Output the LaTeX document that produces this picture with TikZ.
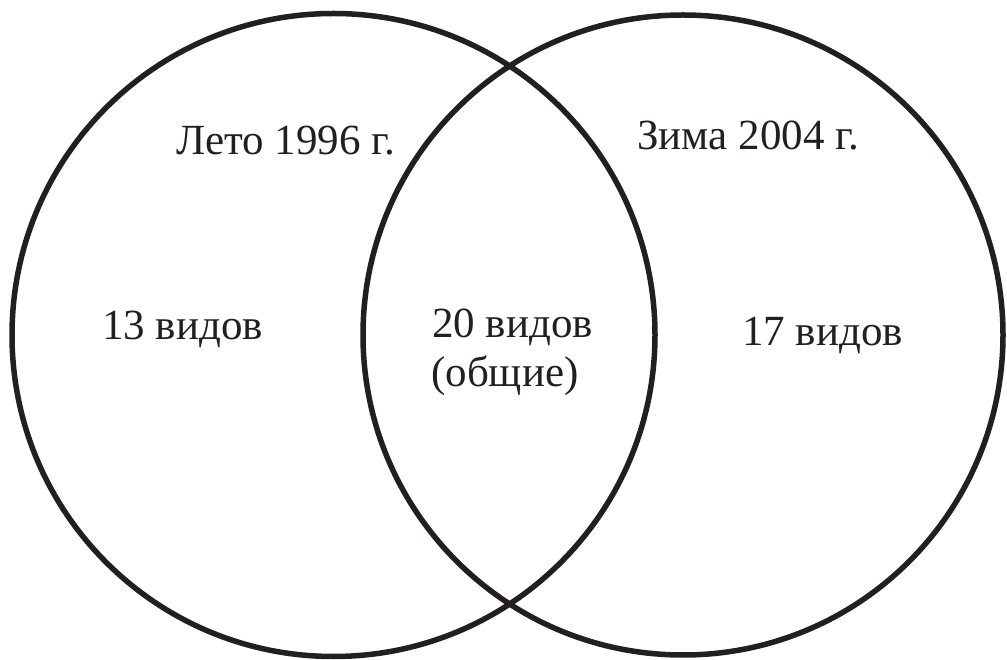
\documentclass[tikz,border=0pt]{standalone}
\usepackage{fontspec}
\setmainfont{Liberation Serif}
\definecolor{ink}{HTML}{231F20}
\begin{document}
\begin{tikzpicture}[x=1pt,y=1pt,
  ring/.style={draw=ink,line width=5.5pt},
  lbl/.style={anchor=base west,inner sep=0pt,text=ink,font=\fontsize{43}{48}\selectfont}]
\useasboundingbox (0,0) rectangle (1007,659);
\node[ring,circle,minimum size=643pt,inner sep=0pt] (left) at (333.5,324) {};
\node[ring,circle,minimum size=640pt,inner sep=0pt] (right) at (683,324) {};
\node[lbl] (summer) at (176,504) {Лето 1996 г.};
\node[lbl] (winter) at (637,509) {Зима 2004 г.};
\node[lbl] (l13) at (102,319) {13 видов};
\node[lbl] (m20) at (432,321) {20 видов};
\node[lbl] (common) at (431,272) {(общие)};
\node[lbl] (r17) at (742,313) {17 видов};
\end{tikzpicture}
\end{document}
